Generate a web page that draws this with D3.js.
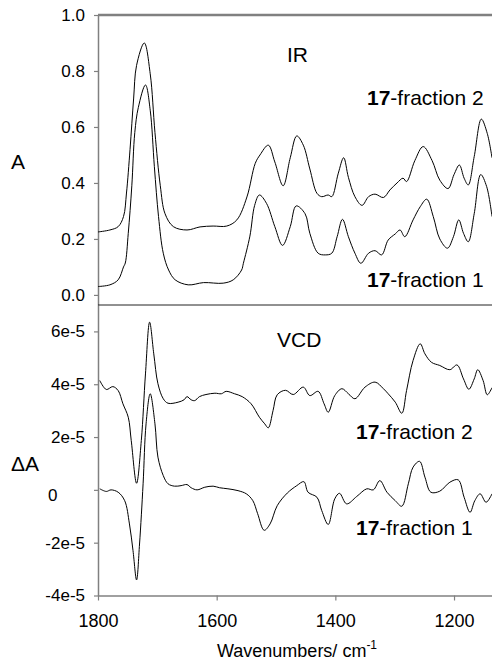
<!DOCTYPE html>
<html>
<head>
<meta charset="utf-8">
<script src="https://cdn.jsdelivr.net/npm/d3@7"></script>
<style>
	body { margin: 0; background: #fff; }
	text { font-family: "Liberation Sans", Arial, sans-serif; }
</style>
</head>
<body>
<svg id="chart" width="492" height="663"></svg>
<script>
// tick values
var irTicks = [0, 0.2, 0.4, 0.6, 0.8, 1.0];
var vcdTicks = [-4, -2, 0, 2, 4, 6]; // in units of 1e-5
var wnTicks = [1800, 1600, 1400, 1200];

// IR spectra, [wavenumber, absorbance]
var ir2 = [
	[1800, 0.225], [1780, 0.232], [1766, 0.244], [1757, 0.28], [1752, 0.364],
	[1746, 0.52], [1740, 0.70], [1735, 0.82], [1722, 0.90], [1712, 0.79],
	[1704, 0.58], [1695, 0.39], [1687, 0.29], [1673, 0.244], [1650, 0.232],
	[1628, 0.243], [1606, 0.246], [1583, 0.246], [1566, 0.268], [1549, 0.35],
	[1535, 0.47], [1527, 0.50], [1513, 0.535], [1502, 0.475], [1488, 0.39],
	[1476, 0.49], [1465, 0.568], [1454, 0.535], [1443, 0.45], [1431, 0.363],
	[1423, 0.351], [1412, 0.357], [1406, 0.351], [1395, 0.435], [1386, 0.49],
	[1378, 0.42], [1367, 0.351], [1355, 0.32], [1344, 0.351], [1333, 0.36],
	[1319, 0.348], [1308, 0.375], [1296, 0.40], [1286, 0.417], [1280, 0.405],
	[1266, 0.48], [1252, 0.53], [1237, 0.48], [1224, 0.41], [1210, 0.38],
	[1200, 0.43], [1191, 0.464], [1183, 0.417], [1176, 0.393], [1166, 0.494],
	[1154, 0.628], [1144, 0.577], [1136, 0.49]
];

var ir1 = [
	[1800, 0.03], [1780, 0.036], [1766, 0.054], [1757, 0.10], [1754, 0.114],
	[1749, 0.22], [1743, 0.39], [1738, 0.58], [1732, 0.67], [1720, 0.75],
	[1712, 0.66], [1705, 0.458], [1698, 0.28], [1690, 0.149], [1681, 0.089],
	[1670, 0.054], [1648, 0.036], [1622, 0.044], [1589, 0.042], [1572, 0.054],
	[1558, 0.089], [1555, 0.113], [1544, 0.21], [1536, 0.32], [1528, 0.357],
	[1516, 0.327], [1502, 0.244], [1489, 0.177], [1476, 0.244], [1466, 0.318],
	[1451, 0.29], [1443, 0.22], [1429, 0.149], [1417, 0.143], [1406, 0.149],
	[1397, 0.208], [1388, 0.27], [1378, 0.208], [1367, 0.149], [1357, 0.113],
	[1344, 0.149], [1333, 0.158], [1322, 0.143], [1311, 0.196], [1299, 0.218],
	[1291, 0.232], [1283, 0.208], [1269, 0.268], [1257, 0.315], [1246, 0.342],
	[1235, 0.28], [1224, 0.20], [1211, 0.167], [1201, 0.208], [1192, 0.268],
	[1184, 0.22], [1176, 0.19], [1166, 0.29], [1155, 0.43], [1145, 0.387],
	[1136, 0.28]
];

// VCD spectra, [wavenumber, deltaA in 1e-5]
var vcd2 = [
	[1797, 4.14], [1786, 3.80], [1775, 3.91], [1766, 3.76], [1758, 3.26],
	[1749, 2.75], [1744, 1.87], [1735, 0.25], [1727, 1.87], [1720, 4.39],
	[1713, 6.35], [1706, 5.15], [1699, 4.02], [1690, 3.45], [1682, 3.28],
	[1665, 3.32], [1655, 3.41], [1650, 3.53], [1643, 3.41], [1637, 3.38],
	[1629, 3.53], [1618, 3.61], [1603, 3.66], [1592, 3.64], [1584, 3.73],
	[1570, 3.64], [1557, 3.53], [1542, 3.26], [1528, 2.75], [1519, 2.5],
	[1513, 2.35], [1505, 3.0], [1498, 3.6], [1484, 3.77], [1471, 3.61],
	[1454, 3.89], [1443, 3.57], [1429, 3.73], [1419, 3.26], [1412, 2.94],
	[1401, 3.57], [1389, 3.83], [1378, 3.64], [1367, 3.45], [1350, 3.89],
	[1333, 4.08], [1319, 3.83], [1311, 3.64], [1299, 3.32], [1288, 2.9],
	[1280, 3.76], [1269, 4.90], [1257, 5.53], [1249, 5.15], [1238, 4.83],
	[1224, 4.71], [1207, 4.55], [1195, 4.73], [1184, 4.20], [1175, 3.81],
	[1166, 4.20], [1160, 4.55], [1151, 4.14], [1144, 3.6], [1136, 3.87]
];

var vcd1 = [
	[1797, 0.04], [1786, -0.06], [1778, 0.0], [1766, -0.09], [1755, -0.41],
	[1747, -1.29], [1741, -2.30], [1735, -3.41], [1730, -2.05], [1724, 0.23],
	[1719, 2.50], [1712, 3.64], [1704, 2.50], [1699, 1.24], [1690, 0.54],
	[1682, 0.23], [1671, 0.14], [1660, 0.16], [1650, 0.20], [1643, 0.08],
	[1633, 0.0], [1620, 0.10], [1606, 0.14], [1595, 0.08], [1581, 0.04],
	[1564, -0.03], [1550, -0.15], [1539, -0.41], [1531, -0.9], [1520, -1.53],
	[1510, -1.29], [1498, -0.6], [1481, -0.12], [1465, 0.16], [1453, 0.31],
	[1446, -0.09], [1431, -0.28], [1423, -0.78], [1412, -1.31], [1401, -0.34],
	[1393, -0.13], [1381, -0.53], [1364, -0.25], [1347, 0.04], [1336, 0.0],
	[1325, 0.35], [1313, -0.09], [1299, -0.41], [1288, -0.62], [1277, 0.23],
	[1269, 0.86], [1258, 1.08], [1249, 0.48], [1239, -0.09], [1224, -0.05],
	[1207, 0.29], [1193, 0.38], [1183, -0.28], [1173, -0.85], [1165, -0.41],
	[1156, -0.15], [1146, -0.47], [1136, -0.15]
];

var axisColor = '#808080';
var svg = d3.select('#chart');

var x = d3.scaleLinear().domain([1800, 1136]).range([98, 492]);
var yIR = d3.scaleLinear().domain([-0.036, 1.0]).range([305, 15]);
var yVCD = d3.scaleLinear().domain([-4, 7]).range([595.5, 305]);

function styleAxis(g) {
	g.select('.domain').attr('stroke', axisColor).attr('stroke-width', 1.5);
	g.selectAll('.tick line').attr('stroke', axisColor).attr('stroke-width', 1.2);
	g.selectAll('.tick text').attr('fill', '#000').attr('font-family', '"Liberation Sans", Arial, sans-serif');
}

// left axes
var gIR = svg.append('g')
	.attr('transform', 'translate(98,0)')
	.call(d3.axisLeft(yIR).tickValues(irTicks).tickFormat(d3.format('.1f'))
		.tickSize(4).tickSizeOuter(0).tickPadding(9))
	.call(styleAxis);
gIR.selectAll('.tick text').attr('font-size', 17);

var gVCD = svg.append('g')
	.attr('transform', 'translate(98,0)')
	.call(d3.axisLeft(yVCD).tickValues(vcdTicks)
		.tickFormat(d => d === 0 ? '0' : d + 'e-5')
		.tickSize(4).tickSizeOuter(0).tickPadding(9))
	.call(styleAxis);
gVCD.selectAll('.tick text').attr('font-size', 17);
// the zero label sits left-aligned in the original
gVCD.selectAll('.tick text').filter(d => d === 0)
	.attr('text-anchor', 'start').attr('x', -50).attr('dy', '0.6em');

// bottom axis
var gX = svg.append('g')
	.attr('transform', 'translate(0,595.5)')
	.call(d3.axisBottom(x).tickValues(wnTicks).tickFormat(d3.format('d'))
		.tickSize(5).tickSizeOuter(0).tickPadding(14))
	.call(styleAxis);
gX.selectAll('.tick text').attr('font-size', 18);

// frame lines
svg.append('line')
	.attr('x1', 98).attr('x2', 492).attr('y1', 15).attr('y2', 15)
	.attr('stroke', axisColor).attr('stroke-width', 2.5);
svg.append('line')
	.attr('x1', 98).attr('x2', 492).attr('y1', 305).attr('y2', 305)
	.attr('stroke', '#222').attr('stroke-width', 1);

// spectra
var lineIR = d3.line().x(d => x(d[0])).y(d => yIR(d[1])).curve(d3.curveCatmullRom.alpha(0.5));
var lineVCD = d3.line().x(d => x(d[0])).y(d => yVCD(d[1])).curve(d3.curveCatmullRom.alpha(0.5));

[ir2, ir1].forEach(s => {
	svg.append('path').datum(s).attr('d', lineIR)
		.attr('fill', 'none').attr('stroke', '#000').attr('stroke-width', 1);
});
[vcd2, vcd1].forEach(s => {
	svg.append('path').datum(s).attr('d', lineVCD)
		.attr('fill', 'none').attr('stroke', '#000').attr('stroke-width', 1);
});

// labels
function addLabel(xp, yp, size, bold, rest) {
	var t = svg.append('text').attr('x', xp).attr('y', yp).attr('font-size', size);
	if (bold) t.append('tspan').attr('font-weight', 'bold').text(bold);
	t.append('tspan').text(rest);
	return t;
}

addLabel(287, 62, 21, null, 'IR');
addLabel(277, 347, 21, null, 'VCD');
addLabel(367, 105, 21, '17', '-fraction 2');
addLabel(367, 287, 21, '17', '-fraction 1');
addLabel(356, 439, 21, '17', '-fraction 2');
addLabel(356, 535, 21, '17', '-fraction 1');

addLabel(11, 169, 21, null, 'A');
addLabel(11, 471, 21, null, '\u0394A');

var title = svg.append('text').attr('x', 217).attr('y', 657).attr('font-size', 18);
title.append('tspan').text('Wavenumbers/ cm');
title.append('tspan').attr('font-size', 12).attr('dy', -8).text('-1');
</script>
</body>
</html>
